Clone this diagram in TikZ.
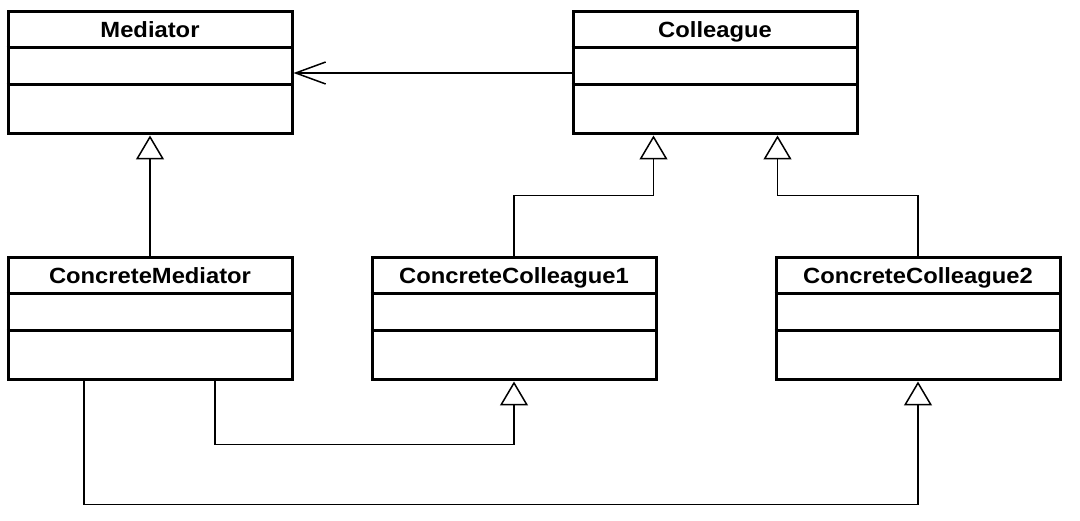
\documentclass[tikz,border=0pt]{standalone}
\usepackage{fontspec}
\setmainfont{Liberation Sans}[FakeStretch=1.08]
\usetikzlibrary{arrows.meta}
\tikzset{
  umlbox/.style={draw, line width=3pt, minimum width=284pt, minimum height=122pt, inner sep=0pt, fill=white},
  umltitle/.style={font=\fontsize{22}{26}\selectfont\bfseries, inner sep=0pt, anchor=base},
  sepline/.style={line width=3pt},
  conn/.style={line width=1.5pt, line join=miter},
  inh/.style={conn, -{Triangle[open, length=24pt, width=28pt, line width=1.5pt]}},
  assoc/.style={conn, -{Straight Barb[length=30pt, width=22pt, line width=1.5pt]}}
}
\newcommand{\umlclass}[3]{%
  \node[umlbox] (#1) at (#2) {};
  \node[umltitle] (#1t) at ([yshift=-27pt]#1.north) {#3};
  \draw[sepline] ([yshift=-37pt]#1.north west) -- ([yshift=-37pt]#1.north east);
  \draw[sepline] ([yshift=-74pt]#1.north west) -- ([yshift=-74pt]#1.north east);
}
\begin{document}
\begin{tikzpicture}[x=1pt, y=-1pt]
\useasboundingbox[fill=white] (0,0) rectangle (1080,521);
\umlclass{med}{150,73}{Mediator}
\umlclass{col}{715,73}{Colleague}
\umlclass{cm}{150,319}{ConcreteMediator}
\umlclass{ccA}{514,319}{ConcreteColleague1}
\umlclass{ccB}{918,319}{ConcreteColleague2}

\draw[assoc] (col.west) -- (med.east);
\draw[inh] (cm.north) -- (med.south);
\draw[inh] (ccA.north) -- ++(0,-61) -| ([xshift=82pt]col.south west);
\draw[inh] (ccB.north) -- ++(0,-61) -| ([xshift=206pt]col.south west);
\draw[inh] ([xshift=65pt]cm.south) -- ++(0,63) -| (ccA.south);
\draw[inh] ([xshift=-66pt]cm.south) -- ++(0,123) -| (ccB.south);
\end{tikzpicture}
\end{document}
